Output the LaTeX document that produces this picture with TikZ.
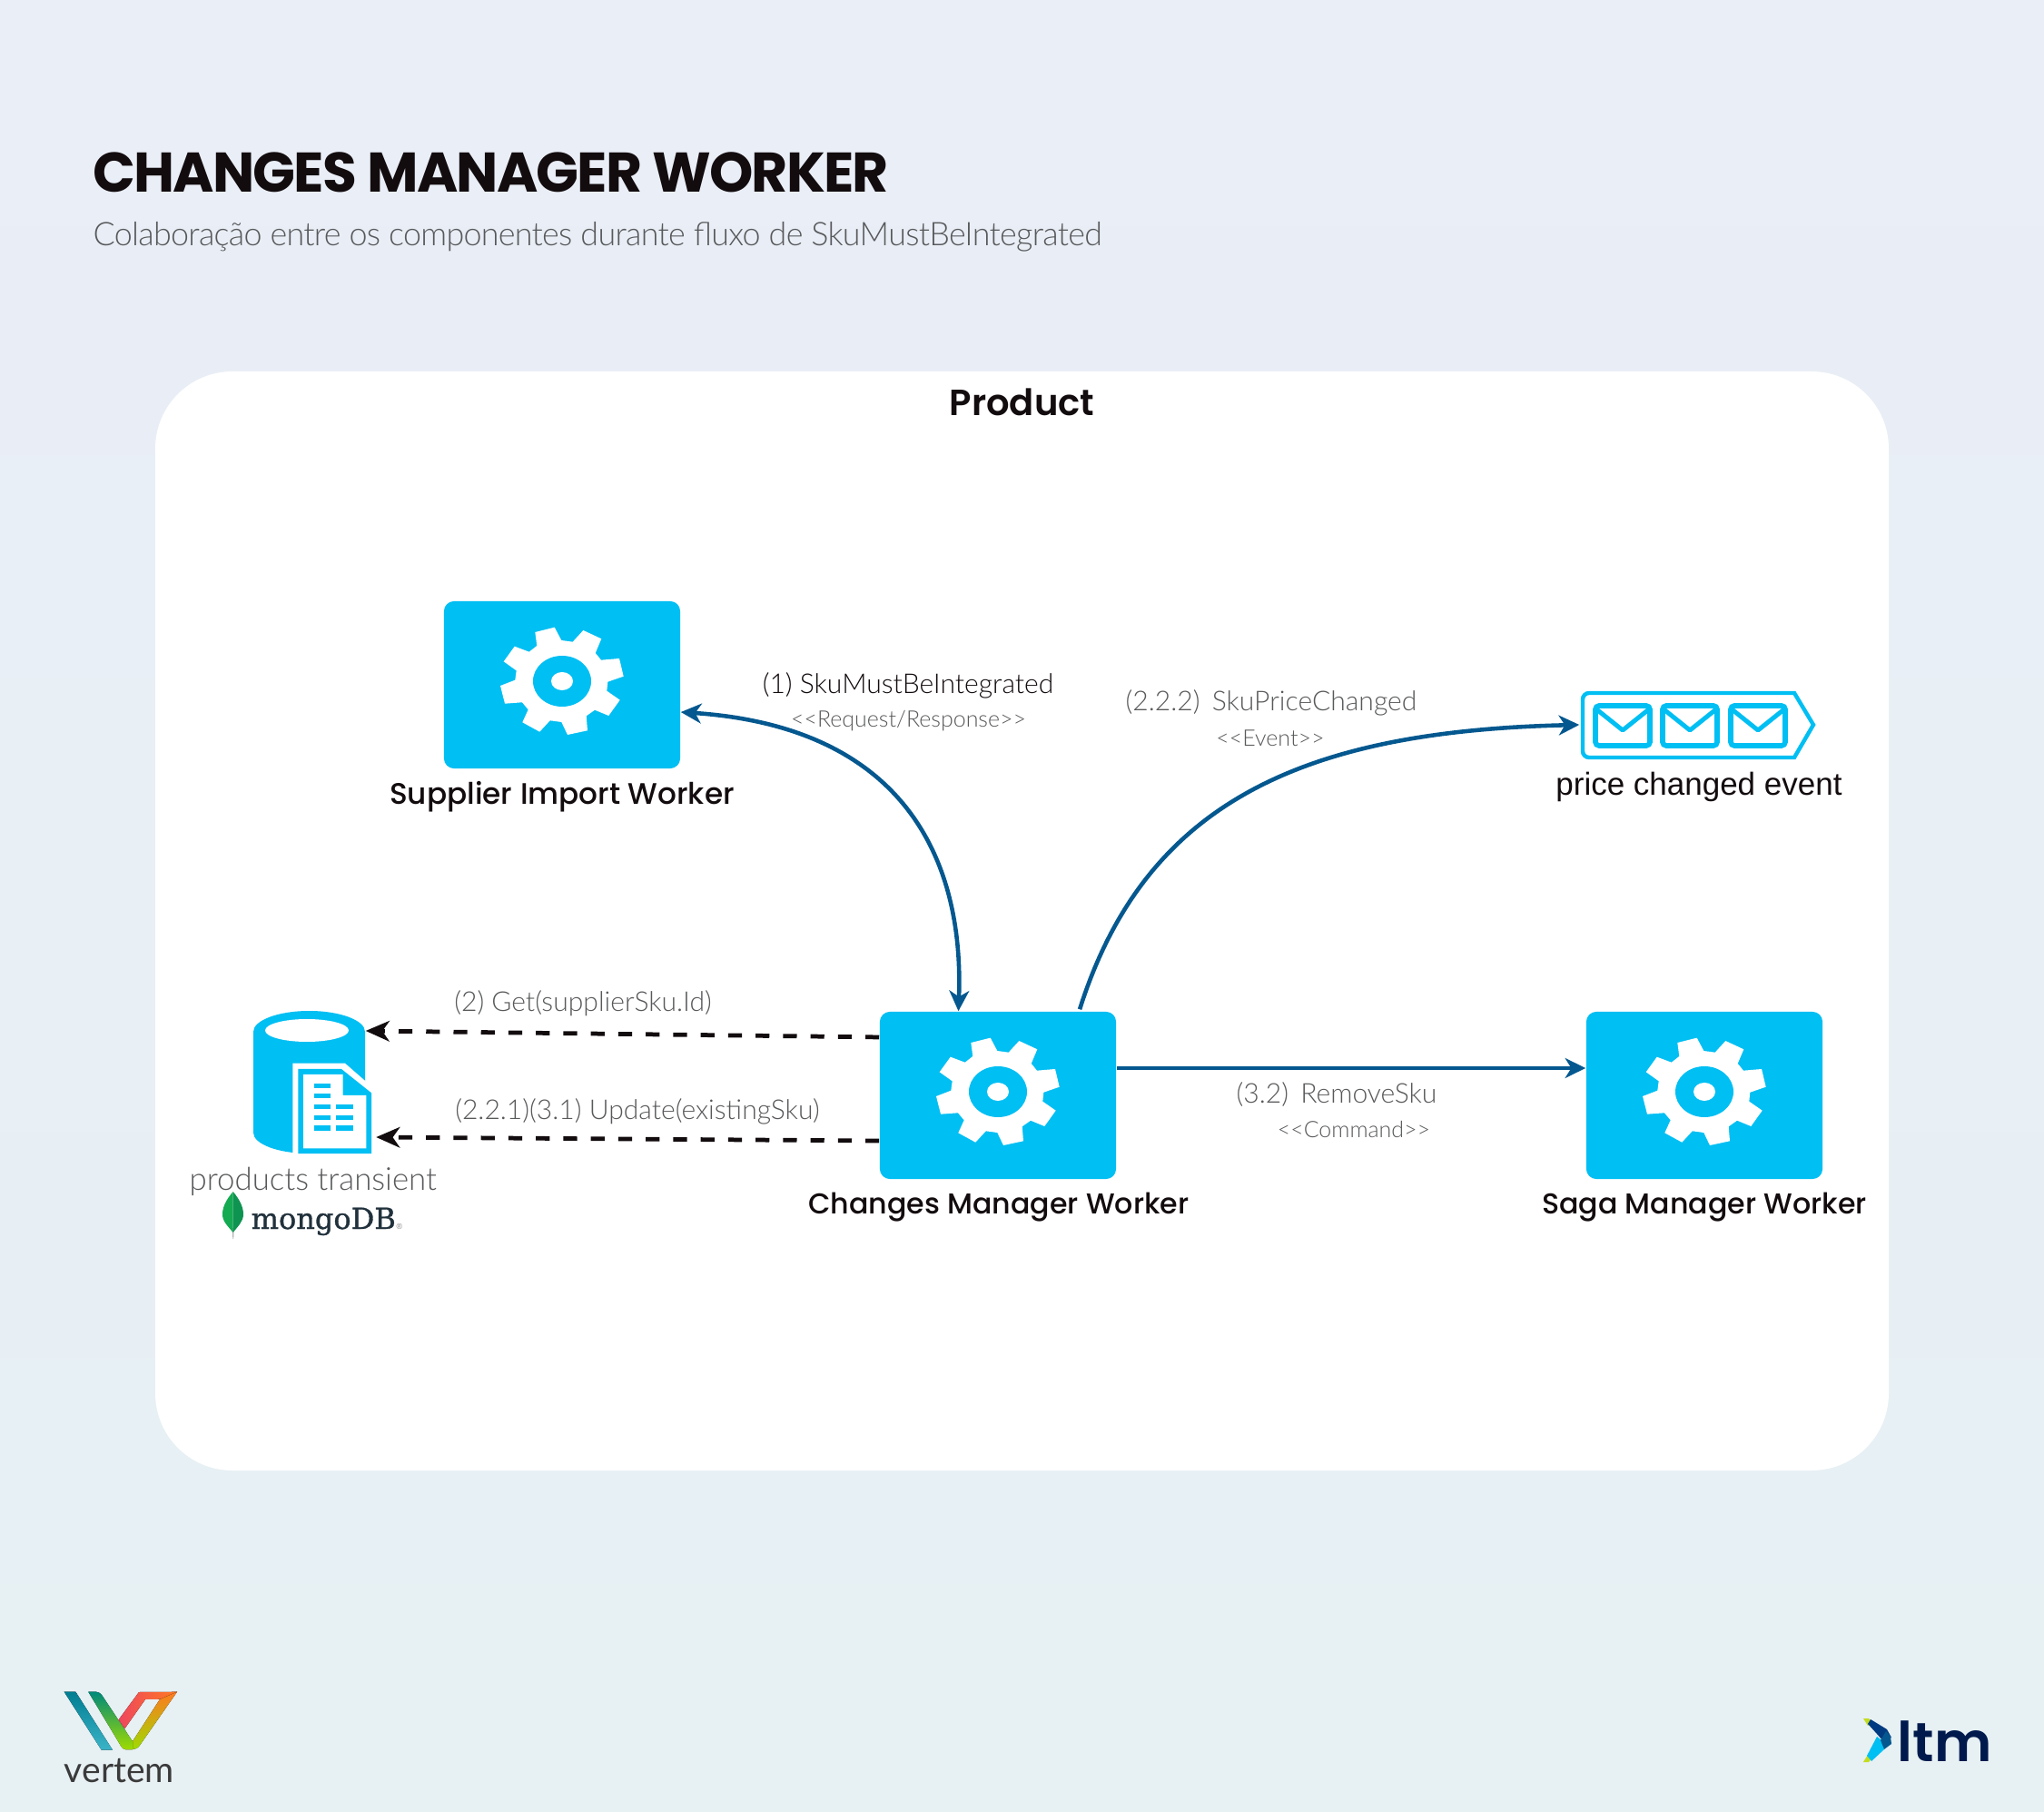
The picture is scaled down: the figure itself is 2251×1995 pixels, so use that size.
\documentclass[tikz,border=0pt]{standalone}
\usepackage{fontspec}
\usetikzlibrary{arrows.meta}
\setmainfont{Lato}
\newfontfamily\lightfont{Lato Light}
\newfontfamily\tightlightfont[LetterSpace=-2]{Lato Light}
\newfontfamily\headfont{Poppins Medium}
\newfontfamily\titlefont[LetterSpace=-3]{Poppins Bold}
\newfontfamily\logofont{Poppins SemiBold}
\newfontfamily\arialfont{Liberation Sans}
\newfontfamily\mongofont[FakeBold=1]{DejaVu Serif}
\definecolor{boxblue}{HTML}{00BFF3}
\definecolor{lineblue}{HTML}{04588F}
\definecolor{inkblack}{HTML}{130C0E}
\definecolor{lightgray}{HTML}{58595B}
\definecolor{pagetop}{HTML}{E9EEF7}
\definecolor{pagebottom}{HTML}{E7F0F3}
\definecolor{mongoink}{HTML}{21313C}
\definecolor{leafleft}{HTML}{13AA52}
\definecolor{leafright}{HTML}{0F9350}
\definecolor{tealtop}{HTML}{007D91}
\definecolor{tealbottom}{HTML}{3CB4C8}
\definecolor{greentop}{HTML}{008A7A}
\definecolor{limeend}{HTML}{9EDB00}
\definecolor{orangeend}{HTML}{FF7A21}
\definecolor{pinkend}{HTML}{EE465F}
\definecolor{vertemink}{HTML}{3A3A3A}
\definecolor{ltmink}{HTML}{001A4D}
\definecolor{ltmdark}{HTML}{003A80}
\definecolor{ltmlime}{HTML}{C4DC1E}
\tikzset{
  workerbox/.style={fill=boxblue, rounded corners=0.11cm, minimum width=2.6cm, minimum height=1.84cm, inner sep=0pt},
  workername/.style={anchor=base, inner sep=0pt, font=\headfont\fontsize{9}{11}\selectfont, text=inkblack},
  flowlabel/.style={anchor=base, inner sep=0pt, font=\lightfont\fontsize{8.55}{10}\selectfont, text=lightgray},
  stereolabel/.style={anchor=base, inner sep=0pt, font=\lightfont\fontsize{7.1}{8}\selectfont, text=lightgray},
  flowtip/.style={-{Stealth[length=6.4pt,width=6.2pt,inset=1.9pt]}},
  flowarrow/.style={draw=lineblue, line width=1.3pt, flowtip},
  dasharrow/.style={draw=inkblack, line width=1.35pt, dash pattern=on 4.3pt off 4.3pt, -{Stealth[length=7.4pt,width=6.4pt,inset=2.2pt]}},
  pics/gearicon/.style={code={
    \fill[white] (-29.7,-54) -- (-8.3,-59.3) -- (-0.7,-45) -- (11.7,-43.3) -- (23.3,-56) -- (43.3,-46.7) -- (36.7,-31) -- (43,-23.3) -- (63,-25) -- (67.7,-5.3) -- (50.3,0.7) -- (49.3,10.7) -- (63.7,20.7) -- (51.3,38) -- (36,31.7) -- (26.7,38.3) -- (28,54.3) -- (6,59) -- (-0.7,45) -- (-13.3,43.3) -- (-24.7,55.7) -- (-43.7,45.3) -- (-37.3,31.3) -- (-44,23.3) -- (-63,24.7) -- (-68,5) -- (-51.7,-1.3) -- (-50.3,-11.7) -- (-64.3,-21.7) -- (-52.3,-38.3) -- (-36.3,-32.3) -- (-27.7,-39) -- cycle;
    \fill[boxblue] (0,0) ellipse [x radius=32, y radius=28];
    \fill[white] (0,0) ellipse [x radius=12, y radius=10];
  }},
  pics/mailicon/.style={code={
    \draw[boxblue, line width=1.6pt, rounded corners=0.04cm] (0,0) rectangle (60,44);
    \draw[boxblue, line width=1.4pt, line join=round] (0,3) -- (30,27) -- (60,3);
  }},
}
\begin{document}
\begin{tikzpicture}[x=0.01cm, y=-0.01cm]
\path[use as bounding box, top color=pagetop, bottom color=pagebottom] (0,0) rectangle (2251,1995);
\fill[white, rounded corners=0.85cm] (171,409) rectangle (2080,1619);
% heading
\node[anchor=base west, inner sep=0pt, font=\titlefont\fontsize{17.5}{20}\selectfont, text=inkblack] (heading) at (102,212) {CHANGES MANAGER WORKER};
\node[anchor=base west, inner sep=0pt, font=\tightlightfont\fontsize{10.2}{12}\selectfont, text=lightgray] (subheading) at (102,271) {Colaboração entre os componentes durante fluxo de SkuMustBeIntegrated};
\node[anchor=base, inner sep=0pt, font=\logofont\fontsize{11.4}{13}\selectfont, text=inkblack] (product) at (1125.5,458) {Product};
% workers
\node[workerbox] (supplier) at (619,754) {};
\node[workerbox] (changes) at (1099,1206) {};
\node[workerbox] (saga) at (1877,1206) {};
\pic at ([yshift=0.04cm]supplier.center) {gearicon};
\pic at ([yshift=0.04cm]changes.center) {gearicon};
\pic at ([yshift=0.04cm]saga.center) {gearicon};
\node[workername, font=\headfont\fontsize{9.3}{11}\selectfont] (supplierlabel) at (619,886) {Supplier Import Worker};
\node[workername] (changeslabel) at (1100,1336) {Changes Manager Worker};
\node[workername] (sagalabel) at (1877,1336) {Saga Manager Worker};
% database
\node[minimum width=1.23cm, minimum height=1.57cm, inner sep=0pt] (transient) at (340.5,1191.5) {};
\fill[boxblue] (279,1136) arc[start angle=180, end angle=360, x radius=61.5, y radius=23] -- (402,1247) arc[start angle=0, end angle=180, x radius=61.5, y radius=23] -- cycle;
\fill[white] (338,1134.5) ellipse [x radius=46, y radius=12.5];
\fill[white] (322.3,1170.7) -- (380,1170.7) -- (409,1196) -- (409,1270) -- (322.3,1270) -- cycle;
\fill[boxblue] (328.3,1177) -- (376,1177) -- (409,1203.3) -- (409,1270) -- (328.3,1270) -- cycle;
\fill[white] (334,1183) -- (377.7,1183) -- (377.7,1206) -- (403.3,1206) -- (403.3,1264.3) -- (334,1264.3) -- cycle;
\foreach \rowtop in {1192.7,1204,1216,1227.7,1239.3}
  \fill[boxblue] (345.7,\rowtop) rectangle (364,\rowtop+5.4);
\foreach \rowtop in {1216,1227.7,1239.3}
  \fill[boxblue] (370,\rowtop) rectangle (389,\rowtop+5.4);
\node[flowlabel, font=\lightfont\fontsize{9.9}{11}\selectfont] (transientlabel) at (344.7,1310) {products transient};
\fill[gray!60] (256,1352) -- (257.5,1352) -- (257.2,1364) -- (256.3,1364) -- cycle;
\fill[leafleft] (256.7,1312) .. controls (248,1322) and (245,1330) .. (245,1337) .. controls (245,1345) and (251,1350) .. (256.7,1357) -- cycle;
\fill[leafright] (256.7,1312) .. controls (265,1322) and (268,1330) .. (268,1337) .. controls (268,1345) and (262,1350) .. (256.7,1357) -- cycle;
\node[anchor=base west, inner sep=0pt, font=\mongofont\fontsize{9.1}{11}\selectfont, text=mongoink] (mongo) at (276,1353) {mongoDB};
\node[anchor=base west, inner sep=0pt, font=\arialfont\fontsize{2.5}{3}\selectfont, text=gray] (mongomark) at (436,1353) {®};
% queue
\node[minimum width=2.57cm, minimum height=0.75cm, inner sep=0pt] (event) at (1868.5,798) {};
\draw[boxblue, line width=1.25pt, line join=miter] (1743,770) arc[start angle=180, end angle=270, radius=7] -- (1976,763) -- (1997,798) -- (1976,834) -- (1750,834) arc[start angle=90, end angle=180, radius=7] -- cycle;
\pic at (1757,777) {mailicon};
\pic at (1831,777) {mailicon};
\pic at (1906,777) {mailicon};
\node[anchor=base, inner sep=0pt, font=\arialfont\fontsize{9.95}{11}\selectfont, text=inkblack] (eventlabel) at (1871,876) {price changed event};
% connectors
\draw[flowarrow, {Stealth[length=6.4pt,width=6.2pt,inset=1.9pt]}-{Stealth[length=6.4pt,width=6.2pt,inset=1.9pt]}] ([yshift=-0.3cm]supplier.east) .. controls (990,800) and (1062,940) .. ([xshift=-0.435cm]changes.north);
\draw[flowarrow] ([xshift=0.9cm,yshift=0.02cm]changes.north) .. controls (1262,880) and (1440,805) .. (event.west);
\draw[flowarrow] ([yshift=0.3cm]changes.east) -- ([yshift=0.3cm]saga.west);
\draw[dasharrow] ([yshift=0.64cm]changes.west) -- ([yshift=0.565cm]transient.east);
\draw[dasharrow] ([yshift=-0.5cm]changes.west) -- ([xshift=0.115cm,yshift=-0.605cm]transient.east);
% connector labels
\node[flowlabel, text=inkblack] (musttext) at (1000,764) {(1) SkuMustBeIntegrated};
\node[stereolabel] (muststereo) at (1000.5,801) {<{}<Request/Response>{}>};
\node[flowlabel] (pricetext) at (1400,783) {(2.2.2)\ \,SkuPriceChanged};
\node[stereolabel] (pricestereo) at (1399,822) {<{}<Event>{}>};
\node[flowlabel] (gettext) at (642,1114) {(2) Get(supplierSku.Id)};
\node[flowlabel] (updatetext) at (702,1232) {(2.2.1)(3.1) Update(existingSku)};
\node[flowlabel] (removetext) at (1472,1215) {(3.2)\ \,RemoveSku};
\node[stereolabel] (removestereo) at (1491,1252) {<{}<Command>{}>};
% vertem logo
\fill[top color=tealtop, bottom color=tealbottom] (70.7,1862.7) -- (83.3,1862.7) -- (124,1926.7) -- (111.7,1926.7) -- cycle;
\fill[left color=pinkend, right color=orangeend] (130.7,1893.3) -- (153,1863) -- (195,1862.7) -- (176.7,1870.7) -- (160,1871) -- (137.3,1903.3) -- cycle;
\fill[top color=orangeend, bottom color=limeend] (176,1871) -- (195,1862.7) -- (155,1920) .. controls (152,1925) and (149,1926) .. (146,1926) -- (138,1926) -- (146,1917.3) -- cycle;
\fill[top color=greentop, bottom color=limeend] (97.3,1862.7) -- (106,1862.7) .. controls (109,1863) and (110,1864) .. (112,1866) -- (146,1917.3) -- (146,1926) -- (138,1926) .. controls (136,1926) and (135,1925) .. (133,1922) -- cycle;
\node[anchor=base, inner sep=0pt, font=\fontsize{11.1}{13}\selectfont, text=vertemink] (vertem) at (131.5,1962) {vertem};
% ltm logo
\fill[ltmlime] (2052,1892) -- (2058,1892) -- (2061,1896) -- (2057,1900) -- cycle;
\fill[ltmlime] (2052,1940) -- (2058,1940) -- (2061,1936) -- (2057,1932) -- cycle;
\fill[boxblue] (2067,1912) -- (2072,1916) -- (2075,1926) -- (2061,1939) -- (2056,1933) -- cycle;
\fill[ltmdark] (2057,1898) -- (2060,1893) -- (2078,1904) -- (2083,1913) -- (2073,1916) -- (2067,1909) -- cycle;
\fill[lineblue] (2071,1916) -- (2077,1906) -- (2082,1912) -- (2083,1920) -- (2075,1926) -- cycle;
\node[anchor=base west, inner sep=0pt, font=\logofont\fontsize{17.2}{20}\selectfont, text=ltmink] (ltm) at (2089,1939) {ltm};
\end{tikzpicture}
\end{document}
